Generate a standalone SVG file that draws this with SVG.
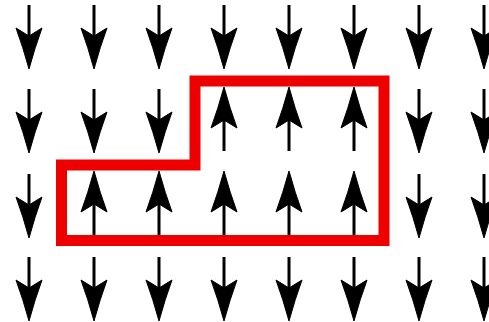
<svg xmlns="http://www.w3.org/2000/svg" xmlns:xlink="http://www.w3.org/1999/xlink" width="489" height="322" viewBox="0 0 489 322">
<style>
.shaft{stroke:#000;stroke-width:3;fill:none}
.head{fill:#000;stroke:#000;stroke-width:1;stroke-linejoin:round}
.region{fill:none;stroke:#ee0000;stroke-width:11;stroke-linejoin:miter}
</style>
<defs>
<g id="dn">
<line class="shaft" x1="0" y1="0" x2="0" y2="40"/>
<path class="head" d="M0,64 Q-6,42 -13,23 L0,31 L13,23 Q6,42 0,64 Z"/>
</g>
<g id="up">
<use xlink:href="#dn" transform="translate(0,63) scale(1,-1)"/>
</g>
</defs>
<rect width="489" height="322" fill="#fff"/>
<g id="arrows">
<g id="r1">
<use id="a1-1" xlink:href="#dn" x="29" y="5"/>
<use id="a1-2" xlink:href="#dn" x="94" y="5"/>
<use id="a1-3" xlink:href="#dn" x="159" y="5"/>
<use id="a1-4" xlink:href="#dn" x="224" y="5"/>
<use id="a1-5" xlink:href="#dn" x="289" y="5"/>
<use id="a1-6" xlink:href="#dn" x="354" y="5"/>
<use id="a1-7" xlink:href="#dn" x="419" y="5"/>
<use id="a1-8" xlink:href="#dn" x="484" y="5"/>
</g>
<g id="r2">
<use id="a2-1" xlink:href="#dn" x="29" y="89"/>
<use id="a2-2" xlink:href="#dn" x="94" y="89"/>
<use id="a2-3" xlink:href="#dn" x="159" y="89"/>
<use id="a2-4" xlink:href="#up" x="224" y="88"/>
<use id="a2-5" xlink:href="#up" x="289" y="88"/>
<use id="a2-6" xlink:href="#up" x="354" y="88"/>
<use id="a2-7" xlink:href="#dn" x="419" y="89"/>
<use id="a2-8" xlink:href="#dn" x="484" y="89"/>
</g>
<g id="r3">
<use id="a3-1" xlink:href="#dn" x="29" y="174"/>
<use id="a3-2" xlink:href="#up" x="94" y="172"/>
<use id="a3-3" xlink:href="#up" x="159" y="172"/>
<use id="a3-4" xlink:href="#up" x="224" y="172"/>
<use id="a3-5" xlink:href="#up" x="289" y="172"/>
<use id="a3-6" xlink:href="#up" x="354" y="172"/>
<use id="a3-7" xlink:href="#dn" x="419" y="174"/>
<use id="a3-8" xlink:href="#dn" x="484" y="174"/>
</g>
<g id="r4">
<use id="a4-1" xlink:href="#dn" x="29" y="257"/>
<use id="a4-2" xlink:href="#dn" x="94" y="257"/>
<use id="a4-3" xlink:href="#dn" x="159" y="257"/>
<use id="a4-4" xlink:href="#dn" x="224" y="257"/>
<use id="a4-5" xlink:href="#dn" x="289" y="257"/>
<use id="a4-6" xlink:href="#dn" x="354" y="257"/>
<use id="a4-7" xlink:href="#dn" x="419" y="257"/>
<use id="a4-8" xlink:href="#dn" x="484" y="257"/>
</g>
</g>
<g id="region">
<path class="region" d="M61.5,165 L195,165 L195,81 L384,81 L384,240.5 L61.5,240.5 Z"/>
</g>
</svg>
